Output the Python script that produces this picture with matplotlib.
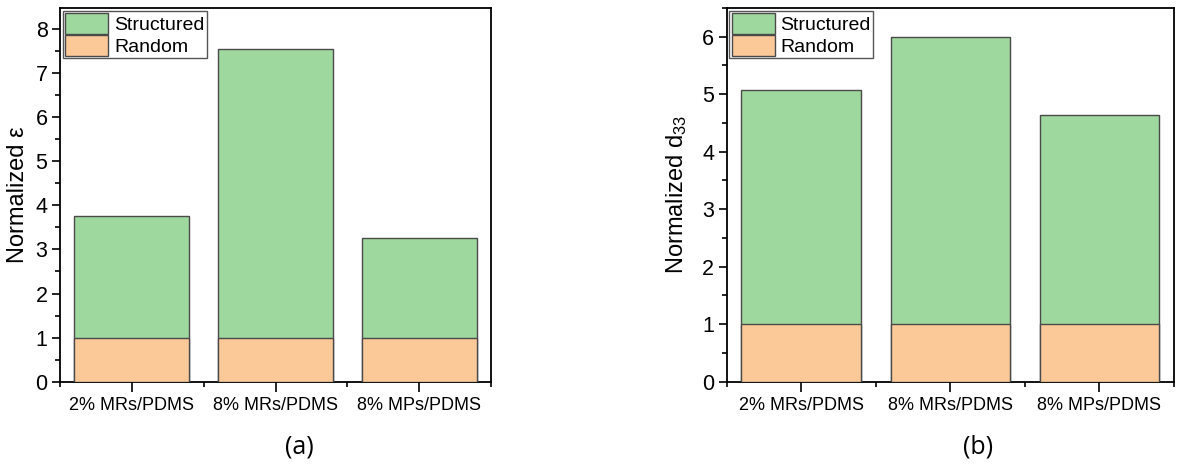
import matplotlib
matplotlib.use("Agg")
import matplotlib.pyplot as plt
from matplotlib.ticker import MultipleLocator, FixedLocator
import numpy as np

plt.rcParams['font.family'] = ['Liberation Sans', 'DejaVu Sans']
plt.rcParams['mathtext.fontset'] = 'custom'
plt.rcParams['mathtext.rm'] = 'Liberation Sans'
plt.rcParams['mathtext.it'] = 'Liberation Sans:italic'

categories = ["2% MRs/PDMS", "8% MRs/PDMS", "8% MPs/PDMS"]
eps_structured = [3.76, 7.55, 3.26]
eps_random = [1.0, 1.0, 1.0]
d33_structured = [5.07, 6.00, 4.63]
d33_random = [1.0, 1.0, 1.0]

green = "#9ED89E"
orange = "#FBC898"
edge = "#4A4A4A"

fig = plt.figure(figsize=(11.91, 4.66), dpi=100)
ax1 = fig.add_axes([0.0504, 0.181, 0.3619, 0.802])
ax2 = fig.add_axes([0.6100, 0.181, 0.3757, 0.802])

def panel(ax, structured, random, ymax, ylabel, labelx):
    x = np.arange(len(categories))
    ax.bar(x, structured, width=0.8, color=green, edgecolor=edge, linewidth=1.0, label="Structured", zorder=2)
    ax.bar(x, random, width=0.8, color=orange, edgecolor=edge, linewidth=1.0, label="Random", zorder=3)
    ax.set_xlim(-0.5, len(categories) - 0.5)
    ax.set_ylim(0, ymax)
    ax.set_xticks(x)
    ax.set_xticklabels(categories, fontsize=13)
    ax.xaxis.set_minor_locator(FixedLocator(np.arange(-0.5, len(categories), 1.0)))
    ax.yaxis.set_major_locator(MultipleLocator(1))
    ax.yaxis.set_minor_locator(MultipleLocator(0.5))
    ax.tick_params(axis='both', which='major', direction='out', length=6, width=1.2, top=False, right=False)
    ax.tick_params(axis='y', which='major', labelsize=15.5, pad=3)
    ax.tick_params(axis='x', which='major', length=7, pad=4, labelsize=13)
    ax.tick_params(axis='both', which='minor', direction='out', length=3.5, width=1.2, top=False, right=False)
    for s in ax.spines.values():
        s.set_linewidth(1.3)
        s.set_color('black')
    ax.set_ylabel(ylabel, fontsize=17)
    ax.yaxis.set_label_coords(labelx, 0.5)
    leg = ax.legend(loc='upper left', fontsize=14, frameon=True, fancybox=False,
                    borderaxespad=0.15, borderpad=0.12, handlelength=2.2, handleheight=1.25,
                    handletextpad=0.3, labelspacing=0.05)
    leg.get_frame().set_edgecolor('#555555')
    leg.get_frame().set_linewidth(1.0)
    leg.get_frame().set_alpha(1)

panel(ax1, eps_structured, eps_random, 8.48, "Normalized ε", -0.072)
panel(ax2, d33_structured, d33_random, 6.5, "Normalized d$_{33}$", -0.084)

fig.text(0.251, 0.04, "(a)", fontsize=18, ha='center', va='center', family=['Open Sans', 'DejaVu Sans'])
fig.text(0.821, 0.04, "(b)", fontsize=18, ha='center', va='center', family=['Open Sans', 'DejaVu Sans'])

fig.savefig("out.png", dpi=100)
